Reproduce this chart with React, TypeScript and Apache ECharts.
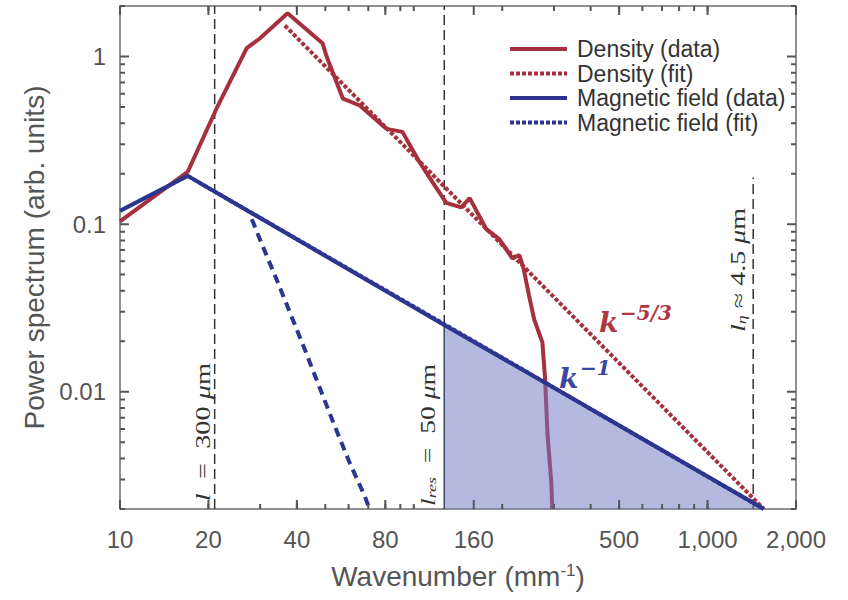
import React, { useEffect, useRef } from "react";
import * as echarts from "echarts";

// ---- axis ticks / labels ----
const xTickLabels = [10, 20, 40, 80, 160, 500, 1000, 2000];
const xMinorTicks = [10, 20, 30, 40, 50, 60, 70, 80, 90, 100, 200, 300, 400, 500, 600, 700, 800, 900, 1000, 2000];
const yTickLabels = [0.01, 0.1, 1];
const yMinorTicks = [
  0.002, 0.003, 0.004, 0.005, 0.006, 0.007, 0.008, 0.009,
  0.02, 0.03, 0.04, 0.05, 0.06, 0.07, 0.08, 0.09,
  0.2, 0.3, 0.4, 0.5, 0.6, 0.7, 0.8, 0.9, 2,
];

// ---- series values [wavenumber (mm^-1), power] ----
const densityData: [number, number][] = [
  [10, 0.104], [17, 0.205], [21.3, 0.488], [27, 1.12], [29.9, 1.28], [37.2, 1.81],
  [48.9, 1.2], [50.5, 1.0], [57.4, 0.56], [65.5, 0.51], [80.8, 0.37], [91.5, 0.355],
  [104.5, 0.235], [115.8, 0.178], [129, 0.134], [145, 0.126], [155, 0.143],
  [176.6, 0.0933], [195.5, 0.0814], [216.5, 0.0625], [228.6, 0.0654], [236, 0.0553],
  [247, 0.0372], [257, 0.027], [274, 0.0197], [280, 0.0118], [285, 0.0057],
  [294, 0.00283], [296, 0.002],
];
const densityFit: [number, number][] = [[36.4, 1.53], [1554, 0.002]];
const magneticData: [number, number][] = [
  [10, 0.12], [17, 0.194], [127, 0.025], [283, 0.0112], [1554, 0.002],
];
const magneticFit: [number, number][] = [[17, 0.194], [1554, 0.002]];
const magneticFitLowK: [number, number][] = [
  [28.1, 0.107], [30.4, 0.076], [33.6, 0.05], [37.8, 0.03], [42.6, 0.0178],
  [47.8, 0.0106], [53.7, 0.0063], [60.4, 0.0038], [68, 0.0024], [70.7, 0.002],
];

// ---- reference scales ----
const kOuter = 21; // l = 300 um
const kRes = 127; // l_res = 50 um
const kEta = 1430; // l_eta ~ 4.5 um
const magneticAtRes = 0.025;
const etaLineTop = 0.19;

const X_MIN = 10;
const X_MAX = 2000;
const Y_MIN = 0.002;
const Y_MAX = 2;

// ---- layout / style ----
const GRID = { left: 120, right: 52, top: 6, bottom: 91 };
const PLOT_W = 848 - GRID.left - GRID.right;
const PLOT_H = 600 - GRID.top - GRID.bottom;

const RED = "#a5303e";
const BLUE = "#2c3590";
const FRAME = "#6e6e6e";
const TICK = "#555555";
const TXT = "#555555";
const SANS = "'Liberation Sans', Arial, Helvetica, sans-serif";
const SERIF = "'Liberation Serif', 'Times New Roman', serif";
const MATH = "'DejaVu Serif', serif";

const L = Math.log10;

// multiplicative step on a log axis that corresponds to `px` pixels
const xStep = (px: number) => Math.pow(10, (px / PLOT_W) * L(X_MAX / X_MIN));
const yStep = (px: number) => Math.pow(10, (px / PLOT_H) * L(Y_MAX / Y_MIN));

function refLine(name: string, data: [number, number][], solid = false) {
  return {
    name,
    type: "line",
    xAxisIndex: 0,
    yAxisIndex: 0,
    data,
    symbol: "none",
    silent: true,
    z: 1,
    lineStyle: { color: "#333", width: 1.5, type: solid ? "solid" : [10, 5] },
  };
}

// tick marks on all four sides, drawn as short segments through the log axes
function tickSeries(name: string, dim: "x" | "y", values: number[], px: number) {
  const data: any[] = [];
  values.forEach((v) => {
    if (dim === "x") {
      const f = yStep(px);
      data.push([v, Y_MIN], [v, Y_MIN * f], [v, "-"]);
      data.push([v, Y_MAX], [v, Y_MAX / f], [v, "-"]);
    } else {
      const f = xStep(px);
      data.push([X_MIN, v], [X_MIN * f, v], ["-", v]);
      data.push([X_MAX, v], [X_MAX / f, v], ["-", v]);
    }
  });
  return {
    name,
    type: "line",
    xAxisIndex: 0,
    yAxisIndex: 0,
    data,
    symbol: "none",
    silent: true,
    clip: false,
    connectNulls: false,
    z: 10,
    lineStyle: { color: TICK, width: 2 },
  };
}

function buildOption() {
  const fillData = magneticData.filter((p) => p[0] >= kRes);
  return {
    animation: false,
    backgroundColor: "#fff",
    grid: { ...GRID, show: true, borderColor: FRAME, borderWidth: 1.5, backgroundColor: "transparent" },
    legend: {
      data: ["Density (data)", "Density (fit)", "Magnetic field (data)", "Magnetic field (fit)"],
      orient: "vertical",
      left: 503,
      top: 32,
      itemWidth: 57,
      itemHeight: 14,
      itemGap: 0.5,
      selectedMode: false,
      lineStyle: { width: 4 },
      itemStyle: { opacity: 0 },
      textStyle: { fontFamily: SANS, fontSize: 23, color: "#333", lineHeight: 24, padding: [0, 0, 0, 5] },
    },
    xAxis: [
      { type: "log", logBase: 10, min: X_MIN, max: X_MAX, show: false, splitLine: { show: false } },
      {
        type: "value",
        min: L(X_MIN),
        max: L(X_MAX),
        position: "bottom",
        axisLine: { show: false, onZero: false },
        axisTick: { show: false },
        splitLine: { show: false },
        axisLabel: {
          show: true,
          customValues: xTickLabels.map(L),
          formatter: (v: number) => Math.round(Math.pow(10, v)).toLocaleString("en-US"),
          fontFamily: SANS,
          fontSize: 24,
          color: TXT,
          margin: 18,
        },
        name: "Wavenumber (mm{s|-1})",
        nameLocation: "middle",
        nameGap: 53,
        nameTextStyle: {
          fontFamily: SANS,
          fontSize: 28,
          color: TXT,
          rich: { s: { fontFamily: SANS, fontSize: 17, color: TXT, verticalAlign: "top" } },
        },
      },
    ],
    yAxis: [
      { type: "log", logBase: 10, min: Y_MIN, max: Y_MAX, show: false, splitLine: { show: false } },
      {
        type: "value",
        min: L(Y_MIN),
        max: L(Y_MAX),
        position: "left",
        axisLine: { show: false, onZero: false },
        axisTick: { show: false },
        splitLine: { show: false },
        axisLabel: {
          show: true,
          customValues: yTickLabels.map(L),
          formatter: (v: number) => String(Number(Math.pow(10, v).toPrecision(3))),
          fontFamily: SANS,
          fontSize: 24,
          color: TXT,
          margin: 14,
        },
        name: "Power spectrum (arb. units)",
        nameLocation: "middle",
        nameGap: 64,
        nameTextStyle: { fontFamily: SANS, fontSize: 28, color: TXT },
      },
    ],
    series: [
      refLine("l300", [[kOuter, Y_MIN], [kOuter, Y_MAX]]),
      refLine("lresTop", [[kRes, magneticAtRes], [kRes, Y_MAX]]),
      refLine("lresBottom", [[kRes, Y_MIN], [kRes, magneticAtRes]], true),
      refLine("leta", [[kEta, Y_MIN], [kEta, etaLineTop]]),
      {
        name: "Density (data)",
        type: "line",
        data: densityData,
        symbol: "none",
        z: 2,
        lineStyle: { color: RED, width: 4 },
        itemStyle: { color: RED },
      },
      {
        name: "resolved",
        type: "line",
        data: fillData,
        symbol: "none",
        z: 3,
        silent: true,
        lineStyle: { width: 0 },
        areaStyle: { color: "#6f78c4", opacity: 0.52, origin: "start" },
      },
      {
        name: "Density (fit)",
        type: "line",
        data: densityFit,
        symbol: "none",
        z: 4,
        lineStyle: { color: RED, width: 4, type: [4, 2] },
        itemStyle: { color: RED },
      },
      {
        name: "Magnetic field (data)",
        type: "line",
        data: magneticData,
        symbol: "none",
        z: 5,
        lineStyle: { color: BLUE, width: 4 },
        itemStyle: { color: BLUE },
      },
      {
        name: "Magnetic field (fit)",
        type: "line",
        data: magneticFit,
        symbol: "none",
        z: 6,
        lineStyle: { color: BLUE, width: 4, type: [4, 2] },
        itemStyle: { color: BLUE },
      },
      {
        name: "magneticLowK",
        type: "line",
        data: magneticFitLowK,
        symbol: "none",
        z: 6,
        lineStyle: { color: BLUE, width: 4, type: [9, 6] },
        itemStyle: { color: BLUE },
      },
      tickSeries("xMajorTicks", "x", xTickLabels, 9),
      tickSeries("xMinorTicks", "x", xMinorTicks, 5),
      tickSeries("yMajorTicks", "y", yTickLabels, 9),
      tickSeries("yMinorTicks", "y", yMinorTicks, 5),
    ],
    graphic: [
      {
        type: "text",
        x: 203,
        y: 432,
        rotation: Math.PI / 2,
        scaleX: 1.42,
        style: {
          text: "{i|l}  =  300 {i|\u03bc}m",
          fontFamily: SERIF,
          fontSize: 20,
          fill: "#333",
          align: "center",
          verticalAlign: "middle",
          rich: { i: { fontFamily: SERIF, fontSize: 20, fontStyle: "italic", fill: "#333" } },
        },
      },
      {
        type: "text",
        x: 428,
        y: 435,
        rotation: Math.PI / 2,
        scaleX: 1.38,
        style: {
          text: "{i|l}{sub|res}  =  50 {i|\u03bc}m",
          fontFamily: SERIF,
          fontSize: 20,
          fill: "#333",
          align: "center",
          verticalAlign: "middle",
          rich: {
            i: { fontFamily: SERIF, fontSize: 20, fontStyle: "italic", fill: "#333" },
            sub: { fontFamily: SERIF, fontSize: 13, fontStyle: "italic", fill: "#333", verticalAlign: "bottom" },
          },
        },
      },
      {
        type: "text",
        x: 738,
        y: 270,
        rotation: Math.PI / 2,
        scaleX: 1.4,
        style: {
          text: "{i|l}{sub|\u03b7} \u2248 4.5 {i|\u03bc}m",
          fontFamily: SERIF,
          fontSize: 20,
          fill: "#333",
          align: "center",
          verticalAlign: "middle",
          rich: {
            i: { fontFamily: SERIF, fontSize: 20, fontStyle: "italic", fill: "#333" },
            sub: { fontFamily: SERIF, fontSize: 13, fontStyle: "italic", fill: "#333", verticalAlign: "bottom" },
          },
        },
      },
      {
        type: "text",
        x: 599,
        y: 322,
        style: { text: "k", fontFamily: MATH, fontSize: 28, fontStyle: "italic", fontWeight: "bold", fill: "#b0363f", align: "left", verticalAlign: "middle" },
      },
      {
        type: "text",
        x: 620,
        y: 313,
        style: { text: "\u22125/3", fontFamily: MATH, fontSize: 20, fontStyle: "italic", fontWeight: "bold", fill: "#b0363f", align: "left", verticalAlign: "middle" },
      },
      {
        type: "text",
        x: 559,
        y: 378,
        style: { text: "k", fontFamily: MATH, fontSize: 28, fontStyle: "italic", fontWeight: "bold", fill: "#3a46a0", align: "left", verticalAlign: "middle" },
      },
      {
        type: "text",
        x: 580,
        y: 368,
        style: { text: "\u22121", fontFamily: MATH, fontSize: 20, fontStyle: "italic", fontWeight: "bold", fill: "#3a46a0", align: "left", verticalAlign: "middle" },
      },
    ],
  };
}

export default function App() {
  const ref = useRef<HTMLDivElement>(null);
  useEffect(() => {
    if (!ref.current) return;
    const chart = echarts.init(ref.current, null, { renderer: "svg" });
    chart.setOption(buildOption() as any);
    return () => chart.dispose();
  }, []);
  return <div ref={ref} style={{ position: "absolute", left: 0, top: 0, width: 848, height: 600 }} />;
}
